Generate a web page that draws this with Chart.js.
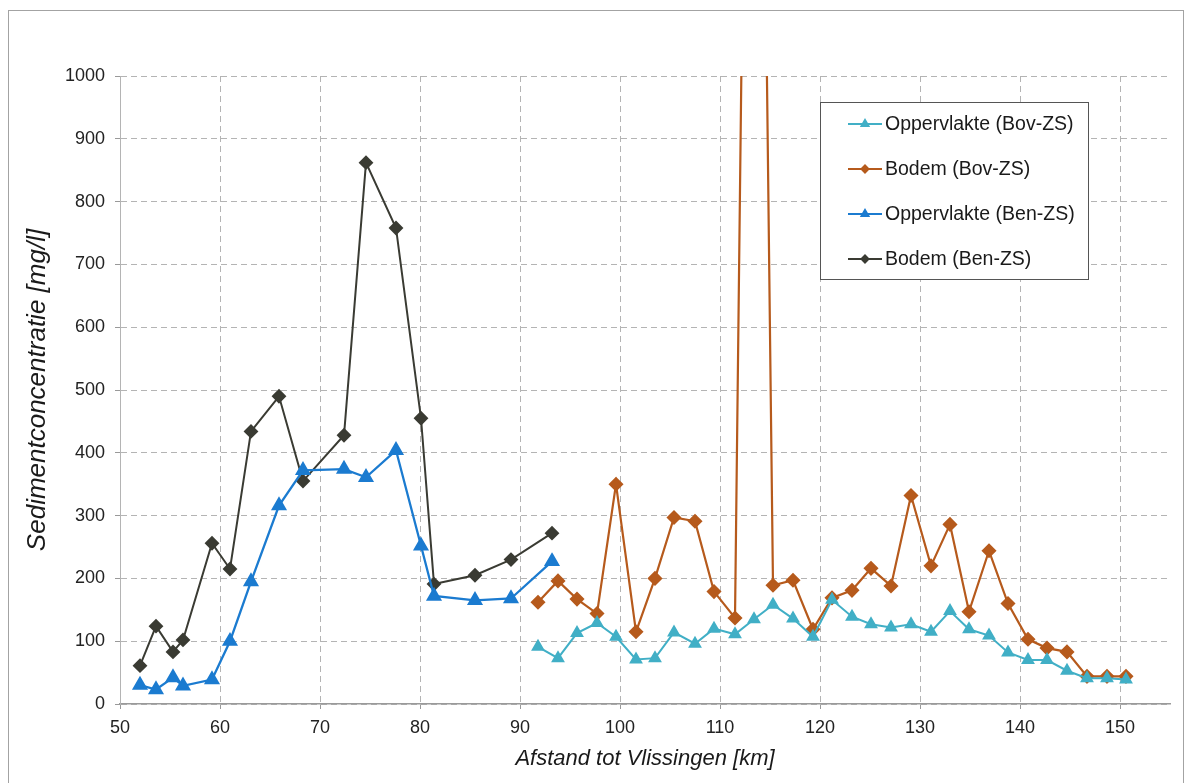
<!DOCTYPE html>
<html>
<head>
<meta charset="utf-8">
<script src="https://cdn.jsdelivr.net/npm/chart.js@4/dist/chart.umd.min.js"></script>
<style>
  body { margin: 0; background: #fff; }
  #frame { position: absolute; left: 8px; top: 10px; width: 1174px; height: 800px; border: 1px solid #a3a3a3; }
  #chart { position: absolute; left: 0; top: 0; }
</style>
</head>
<body>
<div id="frame"></div>
<canvas id="chart" width="1191" height="783"></canvas>
<script>
// Ben-ZS (Beneden Zeeschelde)
const kmBen = [52.0, 53.6, 55.3, 56.3, 59.2, 61.0, 63.1, 65.9, 68.3, 72.4, 74.6, 77.6, 80.1, 81.4, 85.5, 89.1, 93.2];
const bodemBen = [61, 124, 83, 102, 256, 215, 434, 490, 355, 428, 862, 758, 455, 191, 205, 230, 272];
const oppervlakteBen = [30, 23, 42, 29, 39, 100, 195, 316, 372, 374, 361, 404, 252, 172, 165, 168, 227];

// Bov-ZS (Boven Zeeschelde)
const kmBov = [91.8, 93.8, 95.7, 97.7, 99.6, 101.6, 103.5, 105.4, 107.5, 109.4, 111.5, 113.4, 115.3, 117.3, 119.3,
    121.2, 123.2, 125.1, 127.1, 129.1, 131.1, 133.0, 134.9, 136.9, 138.8, 140.8, 142.7, 144.7, 146.7, 148.7, 150.6];
const bodemBov = [162, 196, 167, 144, 350, 115, 200, 297, 291, 179, 137, 2730, 189, 197, 119,
    169, 181, 216, 188, 332, 220, 286, 147, 244, 160, 103, 89, 83, 44, 44, 44];
const oppervlakteBov = [91, 73, 113, 129, 107, 71, 73, 114, 96, 120, 111, 135, 158, 136, 107,
    166, 139, 127, 122, 127, 115, 148, 119, 109, 82, 70, 70, 53, 41, 41, 39];

const xTicks = [50, 60, 70, 80, 90, 100, 110, 120, 130, 140, 150];
const yTicks = [0, 100, 200, 300, 400, 500, 600, 700, 800, 900, 1000];

const FONT = '"Liberation Sans", Arial, sans-serif';
const gridColor = '#b4b4b4';

function pts(xs, ys) {
    return xs.map((x, i) => ({ x: x, y: ys[i] }));
}

// legend drawn inside the plot, boxed
const boxLegend = {
    id: 'boxLegend',
    afterDraw(chart) {
        const c = chart.ctx;
        const left = 820, top = 102, right = 1088, bottom = 279;
        c.save();
        c.fillStyle = '#fff';
        c.fillRect(left, top, right - left, bottom - top);
        c.strokeStyle = '#555';
        c.lineWidth = 1;
        c.strokeRect(left + 0.5, top + 0.5, right - left, bottom - top);
        c.font = '19.5px ' + FONT;
        c.textBaseline = 'middle';
        chart.data.datasets.forEach((ds, i) => {
            const y = 124 + i * 45;
            c.strokeStyle = ds.borderColor;
            c.lineWidth = 2;
            c.beginPath();
            c.moveTo(848, y);
            c.lineTo(882, y);
            c.stroke();
            Chart.helpers.drawPoint(c, {
                pointStyle: ds.pointStyle,
                radius: ds.pointStyle === 'triangle' ? 4 : 3.5,
                borderWidth: 1,
                rotation: 0
            }, 865, y);
            c.fillStyle = ds.borderColor;
            c.fill();
            c.fillStyle = '#1a1a1a';
            c.fillText(ds.label, 885, y + 1);
        });
        c.restore();
    }
};

const ctx = document.getElementById('chart').getContext('2d');

const chart = new Chart(ctx, {
    type: 'line',
    data: {
        datasets: [
            {
                label: 'Oppervlakte (Bov-ZS)',
                data: pts(kmBov, oppervlakteBov),
                borderColor: '#41afc6',
                backgroundColor: '#41afc6',
                borderWidth: 2,
                pointStyle: 'triangle',
                pointRadius: 6
            },
            {
                label: 'Bodem (Bov-ZS)',
                data: pts(kmBov, bodemBov),
                borderColor: '#b65a1c',
                backgroundColor: '#b65a1c',
                borderWidth: 2.2,
                pointStyle: 'rectRot',
                pointRadius: 6
            },
            {
                label: 'Oppervlakte (Ben-ZS)',
                data: pts(kmBen, oppervlakteBen),
                borderColor: '#1b7bd0',
                backgroundColor: '#1b7bd0',
                borderWidth: 2.3,
                pointStyle: 'triangle',
                pointRadius: 7
            },
            {
                label: 'Bodem (Ben-ZS)',
                data: pts(kmBen, bodemBen),
                borderColor: '#3a3b33',
                backgroundColor: '#3a3b33',
                borderWidth: 2,
                pointStyle: 'rectRot',
                pointRadius: 6
            }
        ]
    },
    options: {
        responsive: false,
        devicePixelRatio: 1,
        animation: false,
        layout: { padding: { top: 76, right: 21, left: 0, bottom: 0 } },
        plugins: {
            legend: { display: false },
            tooltip: { enabled: false }
        },
        elements: { line: { tension: 0 }, point: { borderWidth: 1 } },
        scales: {
            x: {
                type: 'linear',
                min: 50,
                max: 155,
                afterBuildTicks: s => { s.ticks = xTicks.map(v => ({ value: v })); },
                afterFit: s => { s.height = 79; },
                ticks: { font: { family: FONT, size: 18 }, color: '#222', padding: 8, maxRotation: 0, callback: v => String(v) },
                grid: { color: gridColor, tickLength: 5, tickColor: '#999', tickBorderDash: [] },
                border: { display: true, color: '#9a9a9a', width: 1.5, dash: [6, 4] },
                title: {
                    display: true,
                    text: 'Afstand tot Vlissingen [km]',
                    font: { family: FONT, size: 22, style: 'italic' },
                    color: '#1a1a1a',
                    padding: { top: 0, bottom: 11 }
                }
            },
            y: {
                min: 0,
                max: 1000,
                afterBuildTicks: s => { s.ticks = yTicks.map(v => ({ value: v })); },
                afterFit: s => { s.width = 120; },
                ticks: { font: { family: FONT, size: 18 }, color: '#222', padding: 10, callback: v => String(v) },
                grid: { color: gridColor, tickLength: 5, tickColor: '#999', tickBorderDash: [] },
                border: { display: true, color: gridColor, dash: [6, 4] },
                title: {
                    display: true,
                    text: 'Sedimentconcentratie [mg/l]',
                    font: { family: FONT, size: 26, style: 'italic' },
                    color: '#1a1a1a',
                    padding: { top: 22, bottom: 0 }
                }
            }
        }
    },
    plugins: [boxLegend]
});
</script>
</body>
</html>
